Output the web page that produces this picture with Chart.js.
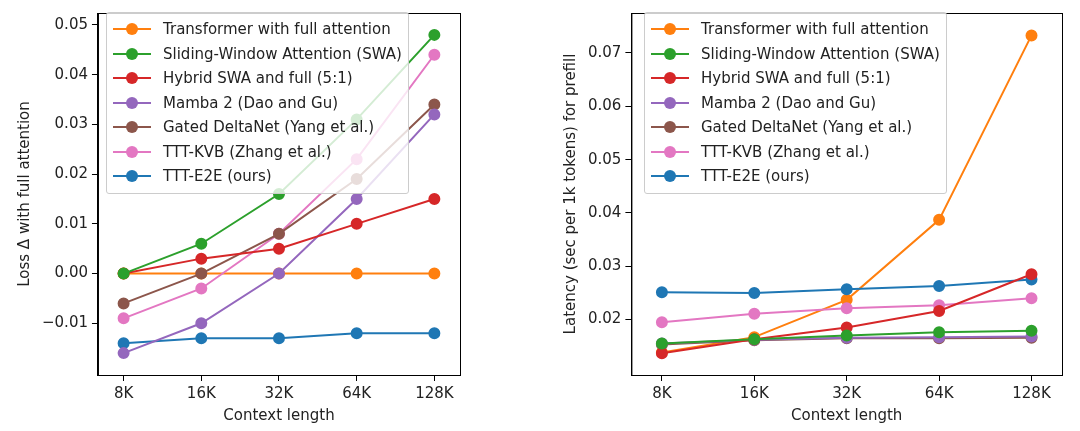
<!DOCTYPE html>
<html><head><meta charset="utf-8">
<script src="https://cdn.jsdelivr.net/npm/chart.js@4"></script>
<style>
body{margin:0;background:#fff;font-family:"DejaVu Sans",sans-serif;}
.wrap{position:absolute;top:0;height:431px;}
.legend{position:absolute;border:1px solid #ccc;border-radius:3px;background:rgba(255,255,255,0.8);padding:4px 6px;font-size:15px;color:#222;}
.legend div{height:24.5px;line-height:24px;white-space:nowrap;display:flex;align-items:center;}
.legend span.k{position:relative;width:38px;height:2px;margin-right:12px;display:inline-block;}
.legend span.k:after{content:"";position:absolute;left:13px;top:-5px;width:12px;height:12px;border-radius:50%;background:inherit;}
</style></head><body>
<div class="wrap" style="left:0;width:540px"><canvas id="c1" width="540" height="431"></canvas>
<div class="legend" id="l1" style="left:106px;top:12px"></div></div>
<div class="wrap" style="left:540px;width:540px"><canvas id="c2" width="540" height="431"></canvas>
<div class="legend" id="l2" style="left:104px;top:12px"></div></div>
<script>
const contexts = ["8K", "16K", "32K", "64K", "128K"];
const names = ["Transformer with full attention", "Sliding-Window Attention (SWA)", "Hybrid SWA and full (5:1)",
  "Mamba 2 (Dao and Gu)", "Gated DeltaNet (Yang et al.)", "TTT-KVB (Zhang et al.)", "TTT-E2E (ours)"];
const colors = ["#ff7f0e", "#2ca02c", "#d62728", "#9467bd", "#8c564b", "#e377c2", "#1f77b4"];

// loss delta vs full attention
const lossTransformer = [0, 0, 0, 0, 0];
const lossSWA = [0, 0.006, 0.016, 0.031, 0.048];
const lossHybrid = [0, 0.003, 0.005, 0.010, 0.015];
const lossMamba = [-0.016, -0.010, 0, 0.015, 0.032];
const lossGated = [-0.006, 0, 0.008, 0.019, 0.034];
const lossKVB = [-0.009, -0.003, 0.008, 0.023, 0.044];
const lossE2E = [-0.014, -0.013, -0.013, -0.012, -0.012];

// latency (sec per 1k tokens)
const latTransformer = [0.0138, 0.0167, 0.0237, 0.0387, 0.0733];
const latSWA = [0.0155, 0.0163, 0.0170, 0.0176, 0.0179];
const latHybrid = [0.0137, 0.0163, 0.0185, 0.0216, 0.0285];
const latMamba = [0.0155, 0.0162, 0.0166, 0.0167, 0.0168];
const latGated = [0.0153, 0.0161, 0.0165, 0.0165, 0.0166];
const latKVB = [0.0195, 0.0211, 0.0221, 0.0227, 0.0240];
const latE2E = [0.0251, 0.0250, 0.0257, 0.0263, 0.0275];

const lossTicks = [-0.01, 0, 0.01, 0.02, 0.03, 0.04, 0.05];
const latTicks = [0.02, 0.03, 0.04, 0.05, 0.06, 0.07];

const frame = {
  id: "frame",
  afterDraw(chart) {
    const a = chart.chartArea, c = chart.ctx;
    c.save(); c.strokeStyle = "#000"; c.lineWidth = 1;
    c.strokeRect(a.left + 0.5, a.top + 0.5, a.right - a.left, a.bottom - a.top);
    c.restore();
  }
};

function makeLegend(id) {
  document.getElementById(id).innerHTML = names.map((n, i) =>
    `<div><span class="k" style="background:${colors[i]}"></span>${n}</div>`).join("");
}

function makeChart(id, series, ymin, ymax, ticks, ytitle, pad) {
  const datasets = series.map((s, i) => ({
    label: names[i], data: s.map((v, j) => ({x: j, y: v})),
    borderColor: colors[i], backgroundColor: colors[i],
    borderWidth: 2, pointRadius: 5, pointHoverRadius: 5, order: i === 0 ? 10 : i
  }));
  const font = {size: 15, family: "DejaVu Sans"};
  const grid = {drawOnChartArea: false, drawTicks: true, tickLength: 6, color: "#000"};
  new Chart(document.getElementById(id), {
    type: "line",
    data: {datasets},
    plugins: [frame],
    options: {
      responsive: false, animation: false,
      layout: {padding: pad},
      plugins: {legend: {display: false}, tooltip: {enabled: false}},
      scales: {
        x: {type: "linear", min: -0.33, max: 4.33, grid, border: {color: "#000"},
          afterBuildTicks: a => { a.ticks = contexts.map((c, j) => ({value: j})); },
          ticks: {color: "#222", font, padding: 4, callback: v => contexts[v]},
          title: {display: true, text: "Context length", color: "#222", font, padding: 0}},
        y: {min: ymin, max: ymax, grid, border: {color: "#000"},
          afterBuildTicks: a => { a.ticks = ticks.map(v => ({value: v})); },
          ticks: {color: "#222", font, padding: 4,
            callback: v => v.toFixed(2).replace("-", "\u2212")},
          title: {display: true, text: ytitle, color: "#222", font}}
      }
    }
  });
}

makeLegend("l1"); makeLegend("l2");
makeChart("c1", [lossTransformer, lossSWA, lossHybrid, lossMamba, lossGated, lossKVB, lossE2E],
  -0.0204, 0.0524, lossTicks, "Loss \u0394 with full attention", {left: 12, top: 5, right: 80, bottom: 6});
makeChart("c2", [latTransformer, latSWA, latHybrid, latMamba, latGated, latKVB, latE2E],
  0.0096, 0.0775, latTicks, "Latency (sec per 1k tokens) for prefill", {left: 18, top: 5, right: 18, bottom: 6});
</script></body></html>
